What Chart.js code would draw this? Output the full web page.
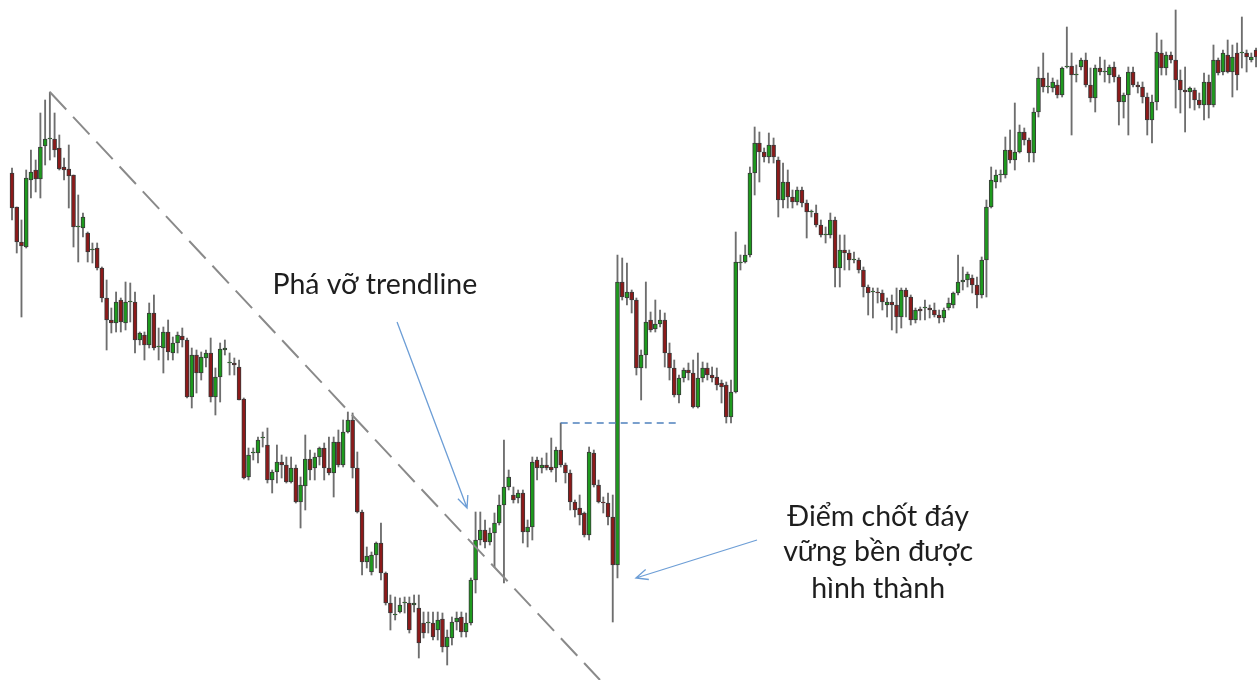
<!DOCTYPE html>
<html>
<head>
<meta charset="utf-8">
<script src="https://cdn.jsdelivr.net/npm/chart.js@4.4.0/dist/chart.umd.min.js"></script>
<style>
  html, body { margin: 0; padding: 0; background: #fff; }
  #wrap { width: 1257px; height: 680px; position: relative; }
</style>
</head>
<body>
<div id="wrap"><canvas id="chart"></canvas></div>
<script>
// OHLC per bar, oldest first
const opens = [
  507,473,438,433,500,510,501,534,541,541, 532,513,511,505,453,452,447,430,432,412,
  382,360,357,380,357,378,378,340,345,335, 367,333,332,348,327,337,344,340,283,325,
  307,322,327,283,303,330,317,317,313,281, 203,227,227,242,235,200,208,218,215,198,
  212,178,194,221,212,223,232,212,207,238, 215,248,260,212,168,118,108,125,137,107,
  77,65,68,77,77,75,72,57,57,57, 50,61,33,42,58,63,48,57,100,140,
  150,138,147,157,175,193,185,182,187,148, 153,220,212,215,213,212,230,215,207,178,
  172,167,145,227,195,178,177,163,115,398, 382,388,380,312,325,360,351,356,360,327,
  312,285,302,310,307,273,302,312,305,303, 297,295,263,288,417,418,425,507,537,528,
  523,535,520,480,498,483,478,490,477,468, 467,455,445,445,460,412,430,427,420,420,
  410,393,388,388,387,375,378,375,363,390, 383,360,371,372,372,370,365,362,372,375,
  387,398,400,402,395,385,420,473,498,505, 505,530,520,528,548,540,527,568,602,593,
  592,595,585,613,614,605,613,620,595,582, 612,608,605,613,603,578,585,608,595,593,
  583,560,578,627,612,625,620,600,590,588, 590,580,575,598,575,620,608,625,608,627,
  627,627,620,630
];
const highs = [
  512,473,460,510,530,520,567,580,588,567, 545,522,535,505,485,467,448,437,437,413,
  400,372,388,382,398,397,388,348,348,377, 385,352,353,360,343,348,352,342,332,330,
  328,330,342,312,337,340,327,322,320,282, 232,232,243,248,252,210,235,225,223,223,
  215,203,245,230,227,233,237,243,243,250, 260,268,267,228,170,133,128,138,157,108,
  85,83,82,83,83,85,85,68,68,68, 68,67,50,63,68,68,67,102,168,168,
  160,152,167,185,240,210,193,190,190,160, 223,223,222,227,242,233,257,217,210,180,
  185,168,233,230,200,183,187,185,425,422, 417,390,382,330,398,368,380,370,367,337,
  320,305,312,317,320,327,318,317,313,312, 300,298,300,448,425,435,513,553,548,532,
  547,542,523,517,510,490,493,493,480,470, 475,460,453,467,463,445,445,430,428,422,
  413,395,392,392,390,382,385,392,392,392, 385,372,373,380,375,377,370,372,382,388,
  425,413,408,405,403,423,480,513,510,510, 543,550,577,555,552,542,572,613,627,607,
  602,600,613,653,627,615,622,627,612,615, 623,620,615,618,605,587,613,613,598,598,
  587,585,647,640,628,628,670,610,613,593, 592,587,607,605,635,622,630,640,635,637,
  663,630,627,632
];
const lows = [
  460,427,363,432,482,488,482,515,520,523, 510,500,472,433,418,443,418,417,410,378,
  330,347,348,348,350,358,327,335,320,332, 330,320,307,320,320,327,333,282,272,287,
  300,313,278,265,278,325,305,305,280,201, 200,220,217,233,197,187,197,202,197,197,
  177,152,170,200,200,215,200,205,183,213, 213,247,202,167,105,112,105,112,100,75,
  50,60,67,67,47,68,22,42,47,40, 40,28,15,35,50,43,43,55,87,135,
  132,135,113,155,97,190,177,177,137,133, 140,200,207,210,208,198,213,197,170,163,
  155,143,140,193,177,167,155,58,102,380, 375,367,305,280,312,348,348,353,313,300,
  283,277,298,300,272,272,298,300,298,290, 277,257,257,287,410,417,423,485,498,518,
  517,517,463,472,472,472,475,473,442,463, 453,443,437,442,393,393,410,410,417,407,
  383,365,362,377,370,363,350,347,352,363, 355,357,360,360,362,363,357,358,370,372,
  385,390,393,387,372,382,383,472,492,498, 502,517,510,527,535,518,518,563,588,587,
  588,582,583,612,545,598,610,593,578,568, 605,598,597,598,555,562,545,593,587,577,
  545,537,570,605,605,617,572,567,548,572, 570,572,560,562,573,605,605,607,583,590,
  612,608,618,613
];
const closes = [
  472,438,434,502,508,501,533,541,541,530, 511,510,504,453,453,463,428,430,412,382,
  360,357,378,358,378,378,340,347,335,367, 332,333,348,328,337,345,340,283,325,307,
  323,327,283,303,331,332,317,315,280,202, 225,227,240,242,200,208,218,215,198,212,
  178,195,221,210,223,232,212,207,238,215, 248,260,212,168,118,124,125,137,107,77,
  67,65,75,77,50,77,37,47,57,43, 60,33,43,58,62,48,57,100,140,150,
  138,147,157,175,193,203,180,187,148,153, 218,212,215,212,210,230,215,207,178,170,
  165,145,228,195,178,177,163,115,398,383, 388,380,312,325,358,350,356,360,327,312,
  285,302,310,307,273,302,312,305,302,295, 293,263,288,418,418,425,507,537,528,523,
  535,523,480,498,483,478,490,477,468,468, 455,445,445,460,412,430,427,420,420,410,
  393,387,388,387,378,378,375,363,390,383, 360,370,369,372,370,365,362,370,377,387,
  398,400,406,395,385,420,473,500,505,505, 530,520,528,548,540,527,568,602,593,593,
  598,585,612,613,605,605,620,595,582,612, 608,608,613,603,578,585,608,595,593,583,
  560,578,628,612,625,620,600,590,588,592, 580,575,598,575,620,607,627,608,623,605,
  628,623,623,623
];

// annotation text
const breakLabel = "Phá vỡ trendline";
const pivotLabel = ["Điểm chốt đáy", "vững bền được", "hình thành"];

const UP = "#1e9a1e";
const DOWN = "#8c1a1a";

const bodies = opens.map((o, i) => ({ x: i, y: [o, closes[i]] }));
const wicks = lows.map((l, i) => ({ x: i, y: [l, highs[i]] }));
const bodyColors = opens.map((o, i) => closes[i] >= o ? UP : DOWN);

// overlay: trendline, breakout level, arrows and labels, all in data units
const overlay = {
  id: "overlay",
  afterDatasetsDraw(chart) {
    const { ctx, scales: { x, y } } = chart;
    const px = (i, p) => [x.getPixelForValue(i), y.getPixelForValue(p)];

    ctx.save();

    // falling trendline from the swing high
    const [tx0, ty0] = px(8, highs[8]);
    const [tx1, ty1] = px(124.3, 0);
    ctx.strokeStyle = "#8a8a8a";
    ctx.lineWidth = 2;
    ctx.setLineDash([24, 10]);
    ctx.beginPath();
    ctx.moveTo(tx0, ty0);
    ctx.lineTo(tx1, ty1);
    ctx.stroke();

    // level of the last swing high before the breakout
    const [lx0, ly] = px(116, highs[116]);
    const [lx1] = px(140.5, highs[116]);
    ctx.strokeStyle = "#4f81bd";
    ctx.lineWidth = 1.5;
    ctx.setLineDash([7, 5]);
    ctx.beginPath();
    ctx.moveTo(lx0, ly);
    ctx.lineTo(lx1, ly);
    ctx.stroke();
    ctx.setLineDash([]);

    function arrow(a, b) {
      const [x0, y0] = px(a[0], a[1]);
      const [x1, y1] = px(b[0], b[1]);
      const ang = Math.atan2(y1 - y0, x1 - x0);
      ctx.strokeStyle = "#6d9ed6";
      ctx.lineWidth = 1.3;
      ctx.beginPath();
      ctx.moveTo(x0, y0);
      ctx.lineTo(x1, y1);
      ctx.moveTo(x1 - 13 * Math.cos(ang - 0.42), y1 - 13 * Math.sin(ang - 0.42));
      ctx.lineTo(x1, y1);
      ctx.lineTo(x1 - 13 * Math.cos(ang + 0.42), y1 - 13 * Math.sin(ang + 0.42));
      ctx.stroke();
    }
    arrow([81.4, 358], [96.2, 172]);
    arrow([157.5, 140], [131.9, 102]);

    // labels, sized so the first one spans about 205px
    ctx.font = "28px Lato, 'Open Sans', sans-serif";
    const size = 28 * 205 / ctx.measureText(breakLabel).width;
    ctx.font = size.toFixed(1) + "px Lato, 'Open Sans', sans-serif";
    ctx.fillStyle = "#1e1e1e";
    ctx.textAlign = "center";
    ctx.textBaseline = "middle";
    const [bx, by] = px(76.7, 395);
    ctx.fillText(breakLabel, bx, by);
    const pivotY = [163, 128, 91];
    pivotLabel.forEach((t, k) => {
      const [cx, cy] = px(183.1, pivotY[k]);
      ctx.fillText(t, cx, cy);
    });

    ctx.restore();
  }
};

new Chart(document.getElementById("chart"), {
  type: "bar",
  data: {
    datasets: [
      {
        label: "body",
        data: bodies,
        backgroundColor: bodyColors,
        borderColor: "#3a3a3a",
        borderWidth: 1,
        borderSkipped: false,
        barThickness: 4,
        minBarLength: 1,
        grouped: false
      },
      {
        label: "wick",
        data: wicks,
        backgroundColor: "#6e6e6e",
        borderWidth: 0,
        barThickness: 1.2,
        grouped: false
      }
    ]
  },
  options: {
    responsive: true,
    maintainAspectRatio: false,
    animation: false,
    layout: { padding: 0 },
    plugins: { legend: { display: false }, tooltip: { enabled: false } },
    scales: {
      x: { type: "linear", min: -2.54, max: 263.2, offset: false, display: false },
      y: { type: "linear", min: 0, max: 680, display: false }
    }
  },
  plugins: [overlay]
});
</script>
</body>
</html>
